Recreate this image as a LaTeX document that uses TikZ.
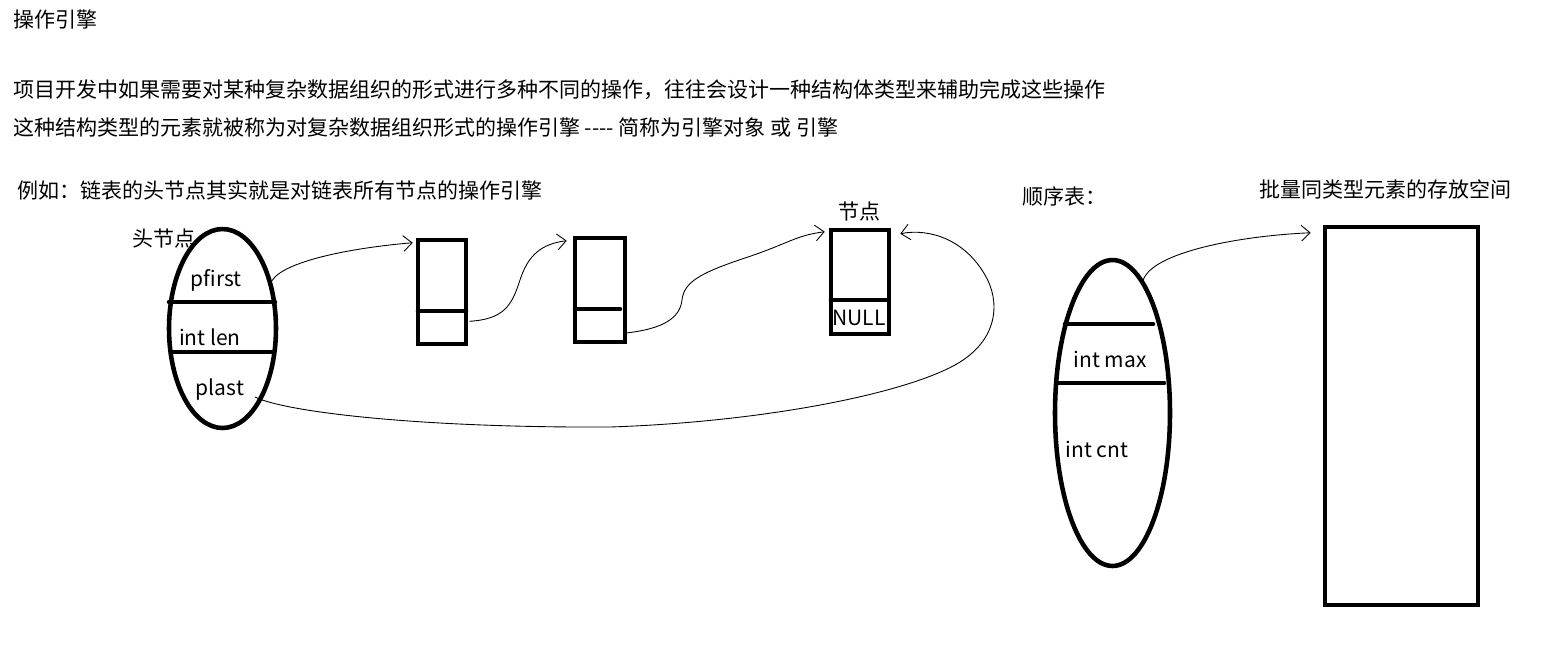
\documentclass[tikz,border=0pt]{standalone}
\usepackage{fontspec}
\setmainfont{Noto Sans CJK SC}
\usepackage{tikz}
\usetikzlibrary{shapes.geometric, arrows.meta, calc}

\begin{document}
\begin{tikzpicture}[x=0.02cm, y=-0.02cm,
    font=\fontsize{11.95}{14}\selectfont,
    txt/.style={anchor=west, inner sep=0pt},
    field/.style={inner sep=0pt},
    engine/.style={ellipse, draw=black, line width=2.6pt, inner sep=0pt},
    cell/.style={rectangle, draw=black, line width=2.6pt, inner sep=0pt},
    bar/.style={line width=2.6pt, line cap=round},
    ptr/.style={-{Straight Barb[length=5pt,width=9pt]}, line width=0.5pt}
]
\useasboundingbox (0,0) rectangle (1542,654);
% heading and explanation lines
\node[txt] (title)  at (13,19)  {操作引擎};
\node[txt] (intro1) at (13,90)  {项目开发中如果需要对某种复杂数据组织的形式进行多种不同的操作，往往会设计一种结构体类型来辅助完成这些操作};
\node[txt] (intro2) at (13,128) {这种结构类型的元素就被称为对复杂数据组织形式的操作引擎 -{}-{}-{}- 简称为引擎对象 或 引擎};
\node[txt] (example) at (17,190) {例如：链表的头节点其实就是对链表所有节点的操作引擎};
% head node of the list
\node[engine, minimum width=2.14cm, minimum height=3.98cm] (head) at (222.5,328.5) {};
\node[txt] (headlbl) at (132,238) {头节点};
\draw[bar] (169,302) -- (275,302);
\draw[bar] (171,352) -- (273,352);
\node[field] (pfirst) at (216,280) {pfirst};
\node[field] (len)    at (210,337) {int len};
\node[field] (plast)  at (220,390) {plast};
\coordinate (plastptr) at (255,397);
% list nodes
\node[cell, minimum width=0.96cm, minimum height=2.08cm] (box1) at (442,292) {};
\node[cell, minimum width=1.0cm,  minimum height=2.08cm] (box2) at (600,290) {};
\node[cell, minimum width=1.16cm, minimum height=2.08cm] (box3) at (860,282) {};
\draw[bar] (418,311) -- (466,311);
\draw[bar] (575,309) -- (620,309);
\draw[bar] (831,300) -- (886,300);
\node[field] (tag)  at (859,212) {节点};
\node[field] (null) at (859,318) {NULL};
% pointers along the list
\draw[ptr] (head.44) .. controls +(12,-20) and +(-60,5) .. ($(box1.north west)+(-3,5)$);
\draw[ptr] ($(box1.south east)+(1,-25)$) .. controls +(35,-2) and +(-8,25) .. (520,280)
           .. controls +(8,-25) and +(-25,3) .. ($(box2.north west)+(-6,5)$);
\draw[ptr] ($(box2.south east)+(-4,-11)$) .. controls +(40,-4) and +(-2,18) .. (682,300)
           .. controls +(2,-18) and +(-45,15) .. (745,258)
           .. controls +(45,-15) and +(-30,4) .. ($(box3.north west)+(-4,4)$);
\draw[ptr] (plastptr) .. controls (285,412) and (420,428) .. (610,427)
           .. controls (760,422) and (900,395) .. (955,365)
           .. controls (1000,340) and (1000,300) .. (985,275)
           .. controls (965,240) and (930,228) .. ($(box3.north east)+(9,6)$);
% sequential list
\node[txt] (seqlbl)   at (1022,196) {顺序表：};
\node[txt] (storelbl) at (1259,189) {批量同类型元素的存放空间};
\node[engine, minimum width=2.3cm, minimum height=6.12cm] (seq) at (1112.5,413) {};
\draw[bar] (1065,324) -- (1153,324);
\draw[bar] (1057,383) -- (1164,383);
\node[field] (max) at (1110,359) {int max};
\node[field] (cnt) at (1097,449) {int cnt};
\node[cell, minimum width=3.06cm, minimum height=7.56cm] (store) at (1401.5,416) {};
\draw[ptr] (seq.77) .. controls +(10,-28) and +(-70,3) .. ($(store.north west)+(-12,8)$);
\end{tikzpicture}
\end{document}
